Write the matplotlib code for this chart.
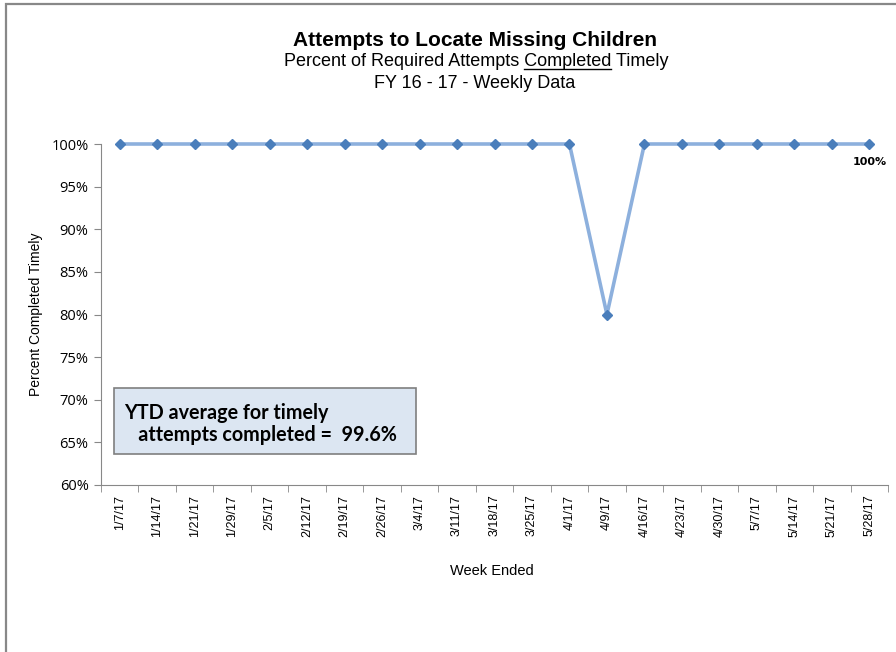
"""Attempts to Locate Missing Children - weekly timeliness line chart."""
import numpy as np
import matplotlib
matplotlib.use("Agg")
import matplotlib.pyplot as plt
from matplotlib.patches import Rectangle
from matplotlib.lines import Line2D
from matplotlib.ticker import FixedLocator, PercentFormatter

weeks = ["1/7/17", "1/14/17", "1/21/17", "1/29/17", "2/5/17", "2/12/17", "2/19/17",
         "2/26/17", "3/4/17", "3/11/17", "3/18/17", "3/25/17", "4/1/17", "4/9/17",
         "4/16/17", "4/23/17", "4/30/17", "5/7/17", "5/14/17", "5/21/17", "5/28/17"]
pct_timely = [100, 100, 100, 100, 100, 100, 100, 100, 100, 100, 100, 100, 100, 80,
              100, 100, 100, 100, 100, 100, 100]
y_ticks = [60, 65, 70, 75, 80, 85, 90, 95, 100]
ytd_avg = 99.6

plt.rcParams["font.family"] = ["Liberation Sans", "DejaVu Sans"]

fig = plt.figure(figsize=(8.96, 6.52), dpi=100)
W, H = 896, 652

# outer frame of the chart area (top/left edges visible)
fig.patches.append(Rectangle((6 / W, -0.05), 1.2, 1 - 4 / H + 0.05,
                             transform=fig.transFigure, fill=False,
                             edgecolor="#888888", linewidth=1.6))

ax = fig.add_axes([101 / W, 1 - 485 / H, 787 / W, 341 / H])
x = np.arange(len(weeks))
ax.plot(x, pct_timely, color="#8DB0DD", linewidth=2.6, zorder=2, clip_on=False)
ax.plot(x, pct_timely, linestyle="none", marker="D", markersize=5,
        color="#4A7EBB", zorder=3, clip_on=False)

ax.set_xlim(-0.5, len(weeks) - 0.5)
ax.set_ylim(60, 100)
ax.set_xticks(x)
ax.set_xticklabels(weeks, rotation=90, fontsize=9)
ax.xaxis.set_minor_locator(FixedLocator(np.arange(-0.5, len(weeks), 1.0)))
ax.tick_params(axis="x", which="major", length=0, pad=7)
ax.tick_params(axis="x", which="minor", length=5, color="#888888")
ax.set_yticks(y_ticks)
ax.yaxis.set_major_formatter(PercentFormatter(decimals=0))
ax.tick_params(axis="y", length=5, color="#888888", pad=4)
for lbl in ax.get_yticklabels():
    lbl.set_family(["Open Sans", "DejaVu Sans"])
    lbl.set_fontsize(10.5)

for s in ["top", "right"]:
    ax.spines[s].set_visible(False)
for s in ["left", "bottom"]:
    ax.spines[s].set_color("#888888")

ax.set_ylabel("Percent Completed Timely", fontsize=10)
ax.set_xlabel("Week Ended", fontsize=10.5)
ax.yaxis.set_label_coords(-58 / 787, 0.5)
ax.xaxis.set_label_coords(0.497, -(564 - 485) / 341)

# data label on last point
ax.annotate(f"{pct_timely[-1]}%", (x[-1], pct_timely[-1]), xytext=(0, -13),
            textcoords="offset points", ha="center", va="center",
            fontsize=8, fontweight="bold", family=["DejaVu Sans"])

# titles
fig.text(475 / W, 1 - 40 / H, "Attempts to Locate Missing Children",
         ha="center", va="center", fontsize=15, fontweight="bold")
sub = "Percent of Required Attempts Completed Timely"
t_sub = fig.text(476 / W, 1 - 62 / H, sub, ha="center", va="center", fontsize=13)
fig.text(475 / W, 1 - 84 / H, "FY 16 - 17 - Weekly Data",
         ha="center", va="center", fontsize=13)

# underline "Completed"
fig.canvas.draw()
r = fig.canvas.get_renderer()
bb = t_sub.get_window_extent(r)
pre = fig.text(0, 0, "Percent of Required Attempts ", fontsize=13)
word = fig.text(0, 0, "Completed", fontsize=13)
w_pre = pre.get_window_extent(r).width
w_word = word.get_window_extent(r).width
pre.remove()
word.remove()
x0 = bb.x0 + w_pre
y_ul = bb.y0 + 2
fig.lines.append(Line2D([x0 / W, (x0 + w_word) / W], [y_ul / H, y_ul / H],
                        transform=fig.transFigure, color="black", linewidth=1.0))

# YTD average box
fig.patches.append(Rectangle((114 / W, 1 - 454 / H), 302 / W, 66 / H,
                             transform=fig.transFigure, facecolor="#DCE6F2",
                             edgecolor="#7F7F7F", linewidth=1.2))
fig.text(124 / W, 1 - 424 / H,
         f"YTD average for timely\n   attempts completed =  {ytd_avg}%",
         ha="left", va="center", fontsize=14.2, fontweight="bold",
         linespacing=1.15, family=["Lato", "DejaVu Sans"])

fig.savefig("out.png", dpi=100)
